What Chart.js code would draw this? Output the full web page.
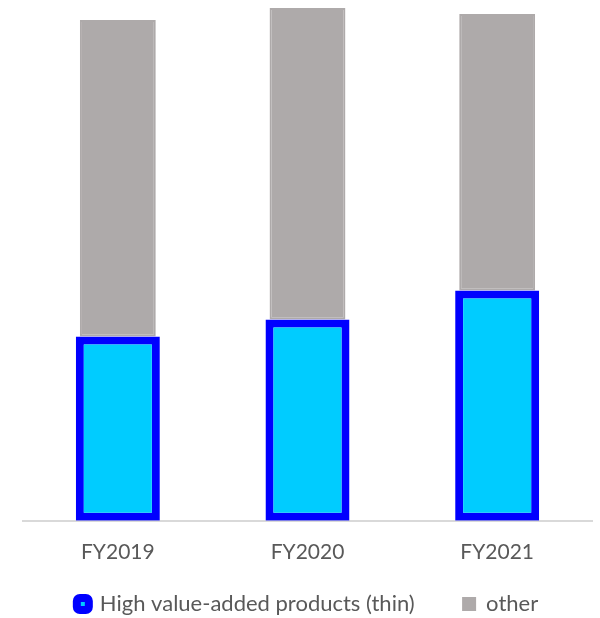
<!DOCTYPE html>
<html>
<head>
<meta charset="utf-8">
<script src="https://cdn.jsdelivr.net/npm/chart.js@4/dist/chart.umd.min.js"></script>
<style>
  html, body { margin: 0; padding: 0; background: #ffffff; }
  #wrap { width: 600px; height: 618px; position: relative; }
</style>
</head>
<body>
<div id="wrap"><canvas id="c" width="600" height="618"></canvas></div>
<script>
const categories = ["FY2019", "FY2020", "FY2021"];
const highValueAdded = [36.8, 40.2, 46.0];
const otherValues = [63.2, 62.2, 55.2];
const seriesNames = ["High value-added products (thin)", "other"];

const textColor = "#595959";
const fontFamily = "Lato, 'Open Sans', sans-serif";

new Chart(document.getElementById("c"), {
  type: "bar",
  data: {
    labels: categories,
    datasets: [
      {
        label: seriesNames[0],
        data: highValueAdded,
        backgroundColor: "#00CCFF",
        borderColor: "#0000FF",
        borderWidth: 8,
        borderSkipped: false,
        barPercentage: 0.443,
        categoryPercentage: 1.0
      },
      {
        label: seriesNames[1],
        data: otherValues,
        backgroundColor: "#AEAAAA",
        borderColor: "#AEAAAA",
        borderWidth: 2,
        borderSkipped: false,
        barPercentage: 0.40,
        categoryPercentage: 1.0
      }
    ]
  },
  options: {
    responsive: false,
    animation: false,
    devicePixelRatio: 1,
    layout: { padding: { left: 23, right: 8, top: 0, bottom: -7 } },
    scales: {
      x: {
        stacked: true,
        grid: { display: false, drawTicks: false },
        border: { display: true, color: "#D9D9D9", width: 2 },
        ticks: { color: textColor, font: { family: fontFamily, size: 21 }, padding: 19 }
      },
      y: {
        stacked: true,
        display: false,
        min: 0,
        max: 104
      }
    },
    plugins: {
      legend: {
        position: "bottom",
        labels: {
          color: textColor,
          font: { family: fontFamily, size: 22 },
          boxWidth: 12,
          boxHeight: 12,
          padding: 9,
          generateLabels: function (chart) {
            const items = Chart.defaults.plugins.legend.labels.generateLabels(chart);
            items.forEach(function (it, i) {
              if (i === 0) {
                it.lineWidth = 8;
                it.borderRadius = 3;
                it.text = it.text + "\u00a0\u00a0\u00a0\u00a0\u00a0\u00a0\u00a0";
              } else {
                it.lineWidth = 2;
                it.borderRadius = 0;
              }
            });
            return items;
          },
          useBorderRadius: true
        }
      },
      tooltip: { enabled: false }
    }
  }
});
</script>
</body>
</html>
